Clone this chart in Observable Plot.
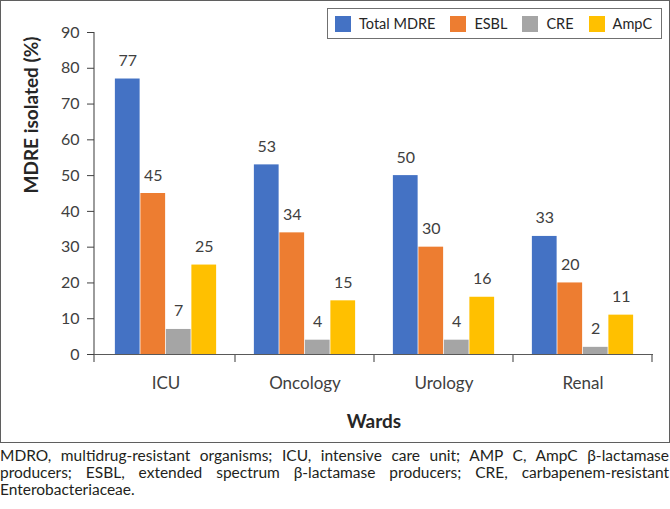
<!DOCTYPE html>
<html>
<head>
<meta charset="utf-8">
<script src="https://cdn.jsdelivr.net/npm/d3@7"></script>
<script src="https://cdn.jsdelivr.net/npm/@observablehq/plot@0.6"></script>
<style>
  body { margin: 0; background: #fff; font-family: Lato, "Open Sans", sans-serif; }
  #wrap { position: relative; width: 670px; height: 443px; }
  #wrap > svg { position: absolute; left: 0; top: 0; }
  #frame { position: absolute; left: 0; top: 0; width: 670px; height: 443px; box-sizing: border-box; border: 1.5px solid #5f5f5f; pointer-events: none; }
  #legend { position: absolute; left: 327px; top: 8px; width: 335px; height: 31px; box-sizing: border-box; border: 1.3px solid #707070; background: #fff; padding-left: 7px; display: flex; align-items: center; overflow: hidden; }
  #legend > div { margin: 0 !important; min-height: 0 !important; font-family: Lato, sans-serif !important; font-size: 14.5px !important; color: #262626 !important; flex-wrap: nowrap !important; }
  #legend * { white-space: nowrap !important; }
  #legend span[class$="-swatch"] { margin-right: 15px !important; max-width: none !important; }
  #legend span[class$="-swatch"] > svg { margin-right: 8px !important; flex-shrink: 0; }
  #caption { width: 669px; font-size: 15.5px; line-height: 17px; color: #231f20; margin-top: 4px; }
  #caption .ln { text-align: justify; text-align-last: justify; white-space: nowrap; }
  #caption .ln.last { text-align-last: left; }
</style>
</head>
<body>
<div id="wrap"><div id="legend"></div><div id="frame"></div></div>
<div id="caption"></div>
<script>
// ---- data ----
const wards = ["ICU", "Oncology", "Urology", "Renal"];
const series = ["Total MDRE", "ESBL", "CRE", "AmpC"];
const totalMDRE = [77, 53, 50, 33];
const esbl = [45, 34, 30, 20];
const cre = [7, 4, 4, 2];
const ampC = [25, 15, 16, 11];
const seriesColors = ["#4472C4", "#ED7D31", "#A5A5A5", "#FFC000"];
const yTicks = [0, 10, 20, 30, 40, 50, 60, 70, 80, 90];
const yTitle = "MDRE isolated (%)";
const xTitle = "Wards";
const captionLines = [
  "MDRO, multidrug-resistant organisms; ICU, intensive care unit; AMP C, AmpC \u03B2-lactamase",
  "producers; ESBL, extended spectrum \u03B2-lactamase producers; CRE, carbapenem-resistant",
  "Enterobacteriaceae."
];

const seriesValues = [totalMDRE, esbl, cre, ampC];
const rows = series.flatMap((s, si) => wards.map((w, wi) => ({ward: w, series: s, value: seriesValues[si][wi]})));

// ---- layout (styles) ----
const W = 670, H = 443, mL = 94, mR = 17, mT = 32, mB = 89;
const band = (W - mL - mR) / wards.length;
const barW = 25.5;
const ink = "#404040";

// boundary ticks and y-axis line, drawn from the scales
function axisLines(index, scales, values, dims) {
  const {x, y} = scales;
  const g = d3.create("svg:g").attr("stroke", "#595959").attr("stroke-width", 1.2);
  const y0 = y(0);
  g.append("line").attr("x1", dims.marginLeft).attr("x2", dims.marginLeft)
    .attr("y1", y(d3.max(yTicks))).attr("y2", y0 + 8);
  for (const w of wards) {
    const xr = x(w) + x.bandwidth();
    g.append("line").attr("x1", xr).attr("x2", xr).attr("y1", y0).attr("y2", y0 + 8);
  }
  return g.node();
}

const marks = [];
series.forEach((s, si) => {
  const left = band / 2 + (si - 2) * barW;
  marks.push(Plot.barY(rows.filter(d => d.series === s), {
    x: "ward", y: "value", fill: "series",
    insetLeft: left, insetRight: band - left - barW
  }));
  marks.push(Plot.text(rows.filter(d => d.series === s), {
    x: "ward", y: "value", text: d => String(d.value),
    dx: (si - 1.5) * barW, dy: -13, lineAnchor: "bottom",
    fontSize: 16, fill: ink
  }));
});
marks.push(Plot.ruleY([0], {stroke: "#595959", strokeWidth: 1.2}));
marks.push(axisLines);
marks.push(Plot.axisY({ticks: yTicks, tickSize: 7, tickPadding: 8, fontSize: 16, color: ink, label: null}));
marks.push(Plot.axisX({tickSize: 0, tickPadding: 22, fontSize: 17, color: ink, label: null}));
marks.push(Plot.text([yTitle], {text: d => d, frameAnchor: "left", rotate: -90, dx: -63, fontSize: 19, fontWeight: "bold", fill: "#262626"}));
marks.push(Plot.text([xTitle], {text: d => d, frameAnchor: "bottom", dy: 73, fontSize: 19, fontWeight: "bold", fill: "#262626"}));

const chart = Plot.plot({
  width: W, height: H,
  marginLeft: mL, marginRight: mR, marginTop: mT, marginBottom: mB,
  style: {fontFamily: "Lato, sans-serif", background: "transparent", overflow: "visible"},
  x: {domain: wards, padding: 0, axis: null},
  y: {domain: [0, 90], axis: null},
  color: {domain: series, range: seriesColors},
  marks
});
document.getElementById("wrap").prepend(chart);

const leg = Plot.legend({color: {domain: series, range: seriesColors}, swatchSize: 16});
document.getElementById("legend").appendChild(leg);

const cap = document.getElementById("caption");
captionLines.forEach((t, i) => {
  const d = document.createElement("div");
  d.className = "ln" + (i === captionLines.length - 1 ? " last" : "");
  d.textContent = t;
  cap.appendChild(d);
});
</script>
</body>
</html>
